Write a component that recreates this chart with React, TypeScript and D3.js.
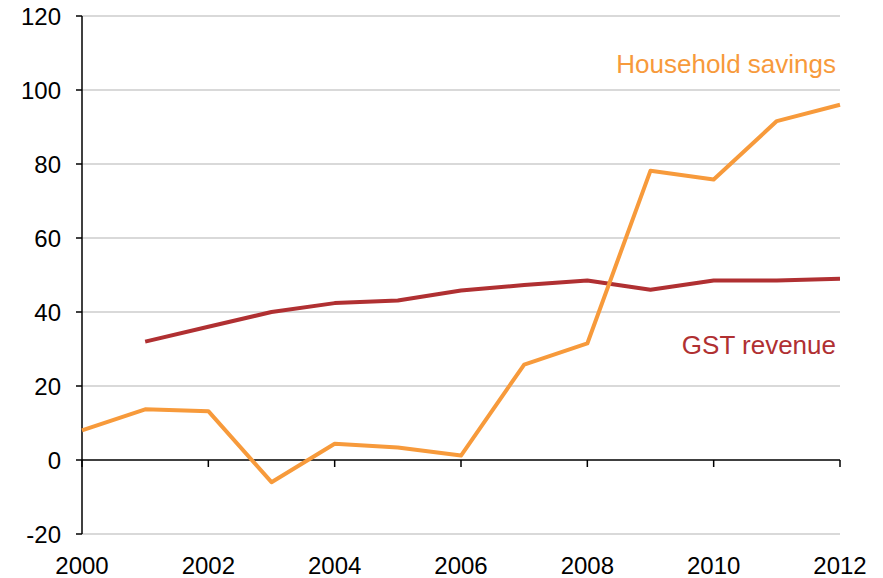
import { useRef, useEffect } from 'react';
import * as d3 from 'd3';

const years = [2000, 2001, 2002, 2003, 2004, 2005, 2006, 2007, 2008, 2009, 2010, 2011, 2012];
const householdSavings = [8, 13.7, 13.2, -6, 4.4, 3.4, 1.2, 25.8, 31.5, 78.2, 75.8, 91.6, 96];
const gstYears = [2001, 2002, 2003, 2004, 2005, 2006, 2007, 2008, 2009, 2010, 2011, 2012];
const gstRevenue = [32, 36, 40, 42.4, 43.1, 45.8, 47.3, 48.5, 46, 48.5, 48.5, 49];
const yTicks = [-20, 0, 20, 40, 60, 80, 100, 120];
const xTicks = [2000, 2002, 2004, 2006, 2008, 2010, 2012];

const W = 883;
const H = 578;
const ORANGE = '#F79A3B';
const RED = '#B03032';

export default function App() {
  const svgRef = useRef<SVGSVGElement>(null);

  useEffect(() => {
    if (!svgRef.current) return;
    const svg = d3.select(svgRef.current);
    svg.selectAll('*').remove();

    const x = d3.scaleLinear().domain([2000, 2012]).range([82, 840]);
    const y = d3.scaleLinear().domain([-20, 120]).range([534, 16]);
    const font = 'Liberation Sans, Arial, sans-serif';

    // gridlines
    svg.append('g')
      .selectAll('line')
      .data(yTicks.filter(d => d !== 0))
      .join('line')
      .attr('x1', x(2000))
      .attr('x2', x(2012))
      .attr('y1', d => y(d))
      .attr('y2', d => y(d))
      .attr('stroke', '#cccccc')
      .attr('stroke-width', 1.5);

    // y axis
    const yAxis = svg.append('g').attr('transform', `translate(${x(2000)},0)`);
    yAxis.append('line')
      .attr('y1', y(120)).attr('y2', y(-20))
      .attr('stroke', '#000').attr('stroke-width', 1.5);
    yAxis.selectAll('line.tick')
      .data(yTicks)
      .join('line')
      .attr('class', 'tick')
      .attr('x1', -6).attr('x2', 0)
      .attr('y1', d => y(d)).attr('y2', d => y(d))
      .attr('stroke', '#000').attr('stroke-width', 1.5);
    yAxis.selectAll('text')
      .data(yTicks)
      .join('text')
      .attr('x', -21)
      .attr('y', d => y(d) + 9)
      .attr('text-anchor', 'end')
      .attr('font-family', font)
      .attr('font-size', 24)
      .text(d => d);

    // x axis on zero line
    const xAxis = svg.append('g');
    xAxis.append('line')
      .attr('x1', x(2000)).attr('x2', x(2012))
      .attr('y1', y(0)).attr('y2', y(0))
      .attr('stroke', '#000').attr('stroke-width', 1.5);
    xAxis.selectAll('line.tick')
      .data(xTicks)
      .join('line')
      .attr('class', 'tick')
      .attr('x1', d => x(d)).attr('x2', d => x(d))
      .attr('y1', y(0)).attr('y2', y(0) + 7)
      .attr('stroke', '#000').attr('stroke-width', 1.5);
    xAxis.selectAll('text')
      .data(xTicks)
      .join('text')
      .attr('x', d => x(d))
      .attr('y', 574)
      .attr('text-anchor', 'middle')
      .attr('font-family', font)
      .attr('font-size', 24)
      .text(d => d);

    const line = d3.line<[number, number]>()
      .x(d => x(d[0]))
      .y(d => y(d[1]));

    svg.append('path')
      .datum(gstYears.map((yr, i) => [yr, gstRevenue[i]] as [number, number]))
      .attr('fill', 'none')
      .attr('stroke', RED)
      .attr('stroke-width', 4)
      .attr('stroke-linejoin', 'round')
      .attr('d', line);

    svg.append('path')
      .datum(years.map((yr, i) => [yr, householdSavings[i]] as [number, number]))
      .attr('fill', 'none')
      .attr('stroke', ORANGE)
      .attr('stroke-width', 4)
      .attr('stroke-linejoin', 'round')
      .attr('d', line);

    svg.append('text')
      .attr('x', 836).attr('y', 73)
      .attr('text-anchor', 'end')
      .attr('font-family', font)
      .attr('font-size', 26)
      .attr('fill', ORANGE)
      .text('Household savings');

    svg.append('text')
      .attr('x', 836).attr('y', 354)
      .attr('text-anchor', 'end')
      .attr('font-family', font)
      .attr('font-size', 26)
      .attr('fill', RED)
      .text('GST revenue');
  }, []);

  return (
    <svg
      ref={svgRef}
      width={W}
      height={H}
      style={{ position: 'absolute', left: 0, top: 0, background: '#fff' }}
    />
  );
}
